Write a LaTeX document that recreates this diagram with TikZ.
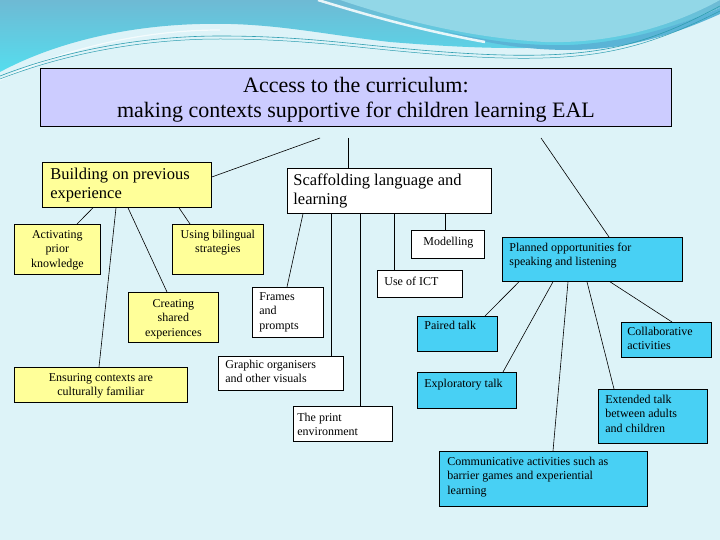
\documentclass[tikz,border=0pt]{standalone}
\usepackage{fontspec}
\setmainfont{Liberation Serif}
\usetikzlibrary{calc}
\definecolor{bgc}{HTML}{DDF3F8}
\definecolor{wavec}{HTML}{6EBAD4}
\definecolor{wavel}{HTML}{92D7E7}
\definecolor{waved}{HTML}{5AB4D6}
\definecolor{turq}{HTML}{55DDEE}
\definecolor{tealc}{HTML}{2F9EB0}
\definecolor{yelc}{HTML}{FFFF99}
\definecolor{bluc}{HTML}{48D0F4}
\definecolor{lavc}{HTML}{CCCCFF}
\newcommand{\bxl}[9]{\node[#2,anchor=north west,inner sep=0pt,minimum width=#5pt,minimum height=#6pt,text height=#7pt,text depth={#6pt-#7pt}] (#1) at (#3,#4) {\hspace*{#8pt}\parbox[t]{\dimexpr#5pt-#8pt\relax}{\raggedright #9}};}
\newcommand{\bxc}[8]{\node[#2,anchor=north west,inner sep=0pt,minimum width=#5pt,minimum height=#6pt,text height=#7pt,text depth={#6pt-#7pt}] (#1) at (#3,#4) {\parbox[t]{#5pt}{\centering #8}};}
\begin{document}
\begin{tikzpicture}[x=1pt,y=-1pt,
  boxy/.style={draw=black,line width=0.8pt,fill=yelc},
  boxb/.style={draw=black,line width=0.8pt,fill=bluc},
  boxw/.style={draw=black,line width=0.8pt,fill=white},
  boxt/.style={draw=black,line width=0.8pt,fill=lavc},
  bigf/.style={font=\fontsize{16.5}{19}\selectfont},
  smf/.style={font=\fontsize{12}{14.5}\selectfont},
  conn/.style={draw=black,line width=0.6pt}]
\useasboundingbox (0,0) rectangle (720,540);
\fill[bgc] (0,0) rectangle (720,540);
% decorative wave
\shade[top color=wavec,bottom color=turq]
  (0,0) -- (720,0) -- (720,8) .. controls (680,25) and (630,44) .. (560,47)
  .. controls (500,50) and (440,46) .. (390,42)
  .. controls (320,34) and (270,22) .. (200,24)
  .. controls (120,26) and (50,45) .. (0,72) -- cycle;
\fill[wavel] (340,0) .. controls (400,20) and (470,38) .. (545,42)
  .. controls (620,44) and (680,22) .. (720,0) -- cycle;
\fill[waved] (440,30) .. controls (490,42) and (530,46) .. (570,45)
  .. controls (630,42) and (680,25) .. (720,8) -- (720,14)
  .. controls (680,32) and (630,50) .. (570,50) .. controls (520,50) and (480,42) .. (440,30) -- cycle;
\draw[white,line width=2.5pt,opacity=0.85] (318,0) .. controls (370,16) and (420,30) .. (485,42);
\draw[white,line width=1.2pt,opacity=0.7] (0,80) .. controls (60,50) and (140,30) .. (220,30);
\draw[tealc,line width=0.6pt] (0,76) .. controls (80,45) and (160,36) .. (220,36)
  .. controls (300,36) and (350,44) .. (420,50) .. controls (490,56) and (550,58) .. (600,50)
  .. controls (650,42) and (690,22) .. (720,6);
\draw[tealc,line width=0.5pt] (0,79) .. controls (80,48) and (160,39) .. (220,39)
  .. controls (300,39) and (350,47) .. (420,53) .. controls (490,59) and (550,61) .. (600,53)
  .. controls (650,45) and (690,26) .. (720,11);
% boxes
\bxc{title}{boxt,font=\fontsize{22}{25}\selectfont}{40}{68}{631}{58}{24}{Access to the curriculum:\\making contexts supportive for children learning EAL}
\bxl{bop}{boxy,bigf}{42}{162}{169}{45}{17}{8}{Building on previous\\experience}
\bxl{scl}{boxw,bigf}{287}{168}{204}{45}{17}{6}{Scaffolding language and\\learning}
\bxc{act}{boxy,smf}{14}{224}{86}{50}{14}{Activating\\prior\\knowledge}
\bxc{ubs}{boxy,smf}{172}{224}{91}{50}{14}{Using bilingual\\strategies}
\bxc{cse}{boxy,smf}{128}{292}{90}{50}{15}{Creating\\shared\\experiences}
\bxc{ecf}{boxy,smf}{14}{367}{173}{35}{14}{Ensuring contexts are\\culturally familiar}
\bxl{fap}{boxw,smf}{252}{287}{71}{50}{13}{7}{Frames\\and\\prompts}
\bxl{gov}{boxw,smf}{218}{356}{125}{34}{12}{7}{Graphic organisers\\and other visuals}
\bxl{tpe}{boxw,smf}{293}{406}{99}{35}{15}{4}{The print\\environment}
\bxl{mod}{boxw,smf}{411}{230}{73}{28}{15}{12}{Modelling}
\bxl{ict}{boxw,smf}{377}{270}{85}{27}{15}{7}{Use of ICT}
\bxl{pos}{boxb,smf}{502}{237}{180}{44}{14}{7}{Planned opportunities for\\speaking and listening}
\bxl{ptk}{boxb,smf}{417}{316}{80}{35}{13}{7}{Paired talk}
\bxl{cac}{boxb,smf}{621}{322}{90}{35}{13}{6}{Collaborative\\activities}
\bxl{etk}{boxb,smf}{417}{372}{99}{36}{15}{7}{Exploratory talk}
\bxl{ext}{boxb,smf}{598}{389}{109}{54}{14}{7}{Extended talk\\between adults\\and children}
\bxl{com}{boxb,smf}{439}{451}{208}{55}{14}{8}{Communicative activities such as\\barrier games and experiential\\learning}
% free ends under the title
\coordinate (t1) at (320,138);
\coordinate (t2) at (348,138);
\coordinate (t3) at (541,138);
% connectors
\draw[conn] (t1) -- ([yshift=-15pt]bop.north east);
\draw[conn] (t2) -- ([xshift=61pt]scl.north west);
\draw[conn] (t3) -- ([xshift=107pt]pos.north west);
\draw[conn] ([xshift=51pt]bop.south west) -- ([xshift=63pt]act.north west);
\draw[conn] ([xshift=74pt]bop.south west) -- ([xshift=85pt]ecf.north west);
\draw[conn] ([xshift=86pt]bop.south west) -- ([xshift=39pt]cse.north west);
\draw[conn] ([xshift=137pt]bop.south west) -- ([xshift=18pt]ubs.north west);
\draw[conn] ([xshift=16pt]scl.south west) -- ([xshift=35pt]fap.north west);
\draw[conn] ([xshift=44pt]scl.south west) -- ([xshift=113pt]gov.north west);
\draw[conn] ([xshift=73pt]scl.south west) -- ([xshift=67pt]tpe.north west);
\draw[conn] ([xshift=107pt]scl.south west) -- ([xshift=17pt]ict.north west);
\draw[conn] ([xshift=158pt]scl.south west) -- ([xshift=34pt]mod.north west);
\draw[conn] ([xshift=17pt]pos.south west) -- ([xshift=68pt]ptk.north west);
\draw[conn] ([xshift=51pt]pos.south west) -- ([xshift=86pt]etk.north west);
\draw[conn] ([xshift=66pt]pos.south west) -- ([xshift=114pt]com.north west);
\draw[conn] ([xshift=85pt]pos.south west) -- ([xshift=16pt]ext.north west);
\draw[conn] ([xshift=108pt]pos.south west) -- ([xshift=51pt]cac.north west);
\end{tikzpicture}
\end{document}
